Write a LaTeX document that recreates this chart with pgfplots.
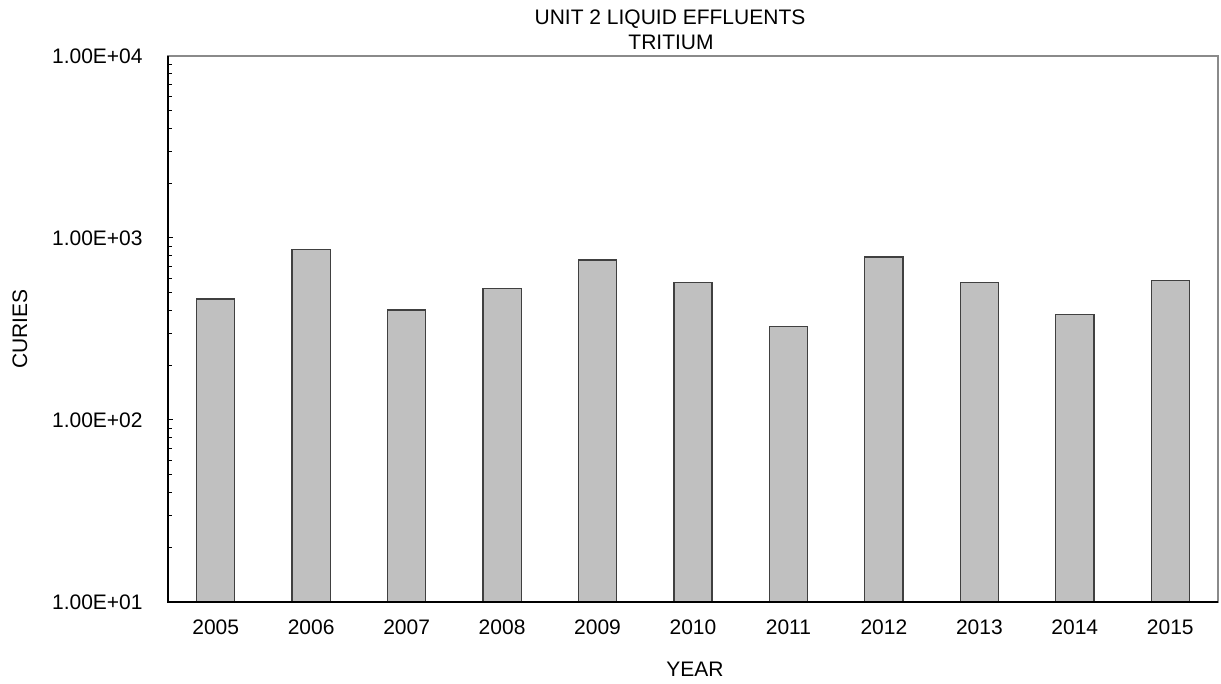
\documentclass[border=0pt]{standalone}
\usepackage{fontspec}
\setmainfont{Liberation Sans}
\usepackage{pgfplots}
\pgfplotsset{compat=1.18}
\definecolor{BarFill}{HTML}{C0C0C0}
\definecolor{BarEdge}{HTML}{404040}
\definecolor{FrameGray}{HTML}{8A8A8A}

\begin{document}
\begin{tikzpicture}[font=\fontsize{10.5}{12.6}\selectfont]
\useasboundingbox (-84pt,-41pt) rectangle (526.5pt,301pt);
\begin{axis}[
  at={(0pt,0pt)}, anchor=south west,
  scale only axis, width=525pt, height=273pt,
  ymode=log, ymin=10, ymax=10000, log origin=infty,
  xmin=-0.5, xmax=10.5,
  ybar, bar width=0.4, bar shift=0pt,
  xtick=data,
  xticklabels={2005,2006,2007,2008,2009,2010,2011,2012,2013,2014,2015},
  xtick style={draw=none},
  xticklabel style={anchor=north, inner sep=0pt, yshift=-8.5pt},
  ytick={10,100,1000,10000},
  yticklabels={1.00E+01,1.00E+02,1.00E+03,1.00E+04},
  yticklabel style={anchor=east, inner sep=0pt, xshift=-12.5pt},
  ytick pos=left, xtick pos=bottom,
  tick align=inside,
  major tick length=2.6pt, minor tick length=2.2pt,
  every tick/.style={black, line width=0.5pt},
  axis line style={FrameGray, line width=0.6pt},
  clip mode=individual,
]
\addplot[fill=BarFill, draw=BarEdge, line width=0.6pt] coordinates {
  (0,462) (1,862) (2,402) (3,526) (4,757) (5,570)
  (6,328) (7,786) (8,570) (9,380) (10,582)
};
\draw[black, line width=0.9pt] (rel axis cs:0,1) -- (rel axis cs:0,0) -- (rel axis cs:1,0);
\end{axis}
\node at (251pt,291.5pt) {UNIT 2 LIQUID EFFLUENTS};
\node at (251.5pt,279.8pt) {TRITIUM};
\node at (263.5pt,-33.8pt) {YEAR};
\node[rotate=90] at (-74pt,136.5pt) {CURIES};
\end{tikzpicture}
\end{document}
